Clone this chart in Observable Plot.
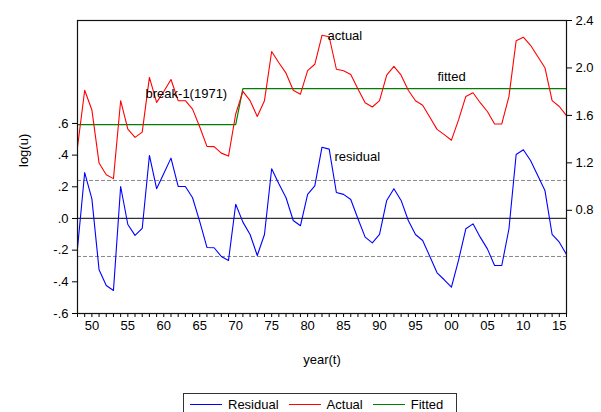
<!DOCTYPE html>
<html><head><meta charset="utf-8">
<script src="https://cdn.jsdelivr.net/npm/d3@7"></script>
<script src="https://cdn.jsdelivr.net/npm/@observablehq/plot@0.6"></script>
<style>
body{margin:0;background:#fff;font-family:"Liberation Sans",Arial,sans-serif;}
#wrap{position:relative;width:601px;height:412px;overflow:hidden;background:#fff}
#legend{position:absolute;left:183px;top:393px;width:274px;height:22px;border:1px solid #333;box-sizing:border-box;display:flex;align-items:center;padding-left:6px;font-size:13px;color:#000;background:#fff}
#legend .sw{display:inline-block;width:32px;height:0;border-top:1.5px solid;margin-right:6px}
#legend .it{display:flex;align-items:center;margin-right:10px}
</style></head><body><div id="wrap"><div id="chart"></div><div id="legend"></div></div>
<script>
const years = d3.range(1948, 2017);
const residual = [-0.19,0.29,0.124,-0.324,-0.423,-0.455,0.202,-0.038,-0.107,-0.063,
0.398,0.188,0.284,0.381,0.202,0.202,0.131,-0.02,-0.183,-0.185,
-0.24,-0.265,0.09,-0.023,-0.101,-0.234,-0.101,0.314,0.219,0.131,
-0.013,-0.046,0.152,0.206,0.45,0.438,0.164,0.152,0.12,-0.002,
-0.118,-0.154,-0.101,0.114,0.188,0.114,-0.013,-0.101,-0.139,-0.24,
-0.343,-0.387,-0.434,-0.261,-0.065,-0.034,-0.118,-0.192,-0.297,-0.297,
-0.065,0.404,0.434,0.366,0.272,0.177,-0.101,-0.15,-0.227];
const actual = [1.332,1.812,1.646,1.198,1.099,1.067,1.724,1.484,1.415,1.459,
1.920,1.710,1.802,1.903,1.724,1.724,1.653,1.502,1.339,1.337,
1.282,1.257,1.612,1.802,1.724,1.591,1.724,2.139,2.044,1.956,
1.812,1.779,1.977,2.031,2.275,2.263,1.989,1.977,1.945,1.823,
1.707,1.671,1.724,1.939,2.013,1.939,1.812,1.724,1.686,1.585,
1.482,1.438,1.391,1.564,1.760,1.791,1.707,1.633,1.528,1.528,
1.760,2.229,2.259,2.191,2.097,2.002,1.724,1.675,1.598];
const fitted = [1.522,1.522,1.522,1.522,1.522,1.522,1.522,1.522,1.522,1.522,
1.522,1.522,1.522,1.522,1.522,1.522,1.522,1.522,1.522,1.522,
1.522,1.522,1.522,1.825,1.825,1.825,1.825,1.825,1.825,1.825,
1.825,1.825,1.825,1.825,1.825,1.825,1.825,1.825,1.825,1.825,
1.825,1.825,1.825,1.825,1.825,1.825,1.825,1.825,1.825,1.825,
1.825,1.825,1.825,1.825,1.825,1.825,1.825,1.825,1.825,1.825,
1.825,1.825,1.825,1.825,1.825,1.825,1.825,1.825,1.825];
const leftTicks = [-0.6,-0.4,-0.2,0,0.2,0.4,0.6];
const rightTicks = [0.8,1.2,1.6,2.0,2.4];
const bands = [0.24,-0.24];
const annotations = [
  {text:"break-1(1971)", year:1957.46, value:0.785},
  {text:"actual", year:1982.77, value:1.151},
  {text:"fitted", year:1998.06, value:0.894},
  {text:"residual", year:1983.74, value:0.387}
];
const seriesNames = ["Residual","Actual","Fitted"];
const seriesColors = ["#0000ff","#ff0000","#008000"];

const L = [-0.6, 1.25], R = [-0.07, 2.4];
const k = (L[1]-L[0])/(R[1]-R[0]);
const toLeft = v => L[0] + (v - R[0]) * k;
const fromLeft = v => R[0] + (v - L[0]) / k;

const rows = years.map((y,i)=>({year:y, residual:residual[i], actual:toLeft(actual[i]), fitted:toLeft(fitted[i])}));
const font = '"Liberation Sans",Arial,sans-serif';

const chart = Plot.plot({
  width:601, height:385,
  marginLeft:77, marginRight:35, marginTop:20, marginBottom:72,
  style:{fontFamily:font, fontSize:"13px", background:"#fff", color:"#000"},
  x:{domain:[1948,2016]},
  y:{domain:L},
  marks:[
    Plot.ruleY(bands, {stroke:"#888", strokeDasharray:"4,2", strokeWidth:1}),
    Plot.ruleY([0], {stroke:"#333", strokeWidth:1.2}),
    Plot.line(rows, {x:"year", y:"fitted", stroke:seriesColors[2], strokeWidth:1.2}),
    Plot.line(rows, {x:"year", y:"actual", stroke:seriesColors[1], strokeWidth:1.1}),
    Plot.line(rows, {x:"year", y:"residual", stroke:seriesColors[0], strokeWidth:1.1}),
    Plot.text(annotations, {x:"year", y:"value", text:"text", textAnchor:"start", fontSize:13, fill:"#000"}),
    Plot.axisX({ticks:years, tickSize:4, tickPadding:3, label:null,
      tickFormat: d => d % 5 === 0 ? String(d % 100).padStart(2,"0") : ""}),
    Plot.axisY({ticks:leftTicks, tickSize:5, tickPadding:4, label:null,
      tickFormat: d => d.toFixed(1).replace("0.", ".")}),
    Plot.axisY(rightTicks.map(toLeft), {anchor:"right", tickSize:5, tickPadding:4, label:null,
      tickFormat: d => fromLeft(d).toFixed(1)}),
    Plot.text(["year(t)"], {frameAnchor:"bottom", dy:50, fontSize:13, fill:"#000"}),
    Plot.text(["log(u)"], {frameAnchor:"left", dx:-54, rotate:-90, fontSize:13, fill:"#000"}),
    Plot.frame({stroke:"#111", strokeWidth:1.2})
  ]
});
document.getElementById("chart").appendChild(chart);

const lg = document.getElementById("legend");
seriesNames.forEach((n,i)=>{
  const it = document.createElement("span"); it.className="it";
  const sw = document.createElement("span"); sw.className="sw"; sw.style.borderTopColor = seriesColors[i];
  it.appendChild(sw); it.appendChild(document.createTextNode(n));
  lg.appendChild(it);
});
</script></body></html>
